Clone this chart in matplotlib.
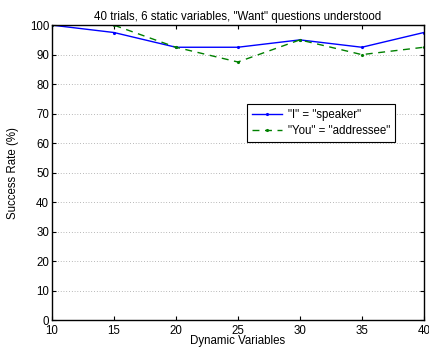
import numpy as np
import matplotlib
matplotlib.use('Agg')
import matplotlib.pyplot as plt

plt.rcParams['font.family'] = ['Liberation Sans', 'DejaVu Sans']

dyn_vars = [10, 15, 20, 25, 30, 35, 40]
rate_i = [100, 97.5, 92.5, 92.5, 95, 92.5, 97.5]
rate_you = [100, 100, 92.5, 87.5, 95, 90, 92.5]

fs = 8.3
fig = plt.figure(figsize=(4.29, 3.54), dpi=100)
ax = fig.add_axes([0.121, 0.096, 0.867, 0.833])

ax.plot(dyn_vars, rate_i, color='#0000ff', lw=1, marker='.', ms=2.5, label='"I" = "speaker"')
ax.plot(dyn_vars, rate_you, color='#008000', lw=1, ls=(0, (5, 4)), marker='.', ms=2.5,
        label='"You" = "addressee"')

ax.set_xlim(10, 40)
ax.set_ylim(0, 100)
ax.set_xticks(dyn_vars)
ax.set_yticks(np.arange(0, 101, 10))
ax.tick_params(direction='in', top=True, right=True, labelsize=fs, length=3, width=0.8, pad=2)
ax.tick_params(axis='x', pad=3.5)
ax.yaxis.grid(True, ls=(0, (1, 3)), color='#777777', lw=0.5)
for s in ax.spines.values():
    s.set_linewidth(1)

ax.set_xlabel('Dynamic Variables', fontsize=fs, labelpad=-1)
ax.set_ylabel('Success Rate (%)', fontsize=fs, labelpad=8)
ax.set_title('40 trials, 6 static variables, "Want" questions understood', fontsize=fs, pad=4)

leg = ax.legend(loc='upper left', bbox_to_anchor=(0.524, 0.733), fontsize=fs, fancybox=False,
                framealpha=1, edgecolor='black', borderpad=0.45, labelspacing=0.35,
                handlelength=2.6, handletextpad=0.5, borderaxespad=0)
leg.get_frame().set_linewidth(0.8)

fig.savefig('out.png', dpi=100)
